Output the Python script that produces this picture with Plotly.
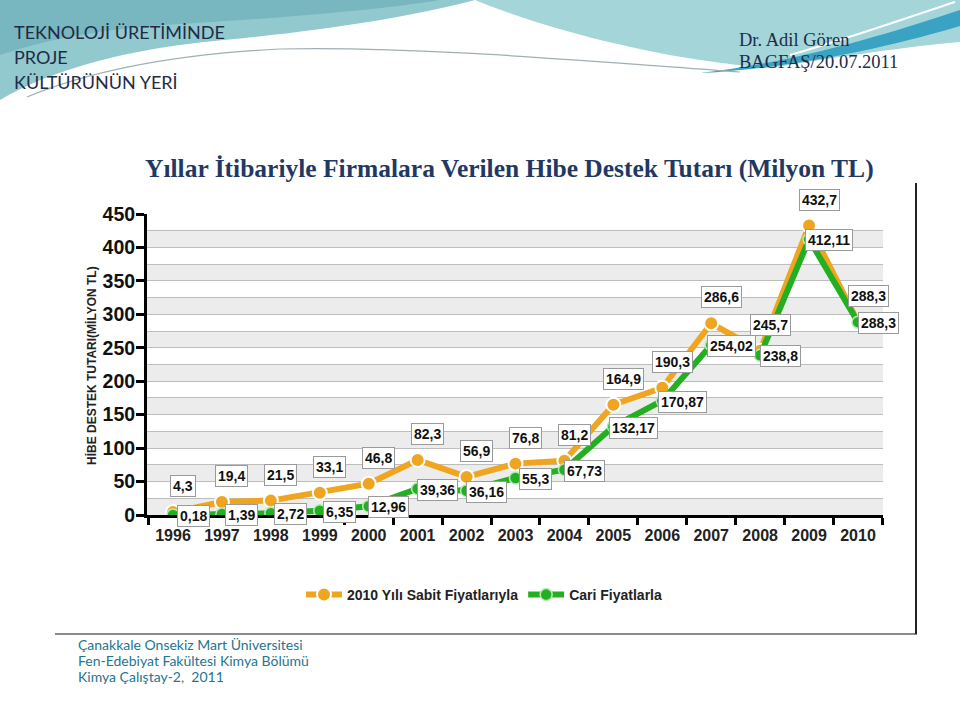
import plotly.graph_objects as go

years = [1996, 1997, 1998, 1999, 2000, 2001, 2002, 2003, 2004, 2005, 2006, 2007, 2008, 2009, 2010]
sabit = [4.3, 19.4, 21.5, 33.1, 46.8, 82.3, 56.9, 76.8, 81.2, 164.9, 190.3, 286.6, 245.7, 432.7, 288.3]
cari = [0.18, 1.39, 2.72, 6.35, 12.96, 39.36, 36.16, 55.3, 67.73, 132.17, 170.87, 254.02, 238.8, 412.11, 288.3]
series_names = ["2010 Yılı Sabit Fiyatlarıyla", "Cari Fiyatlarla"]
y_ticks = [0, 50, 100, 150, 200, 250, 300, 350, 400, 450]

ORANGE = "#EFA520"
GREEN = "#22B022"

W, H = 960, 716
L, R, T, B = 147, 883, 214, 515


def px(x):
    return (x - L) / (R - L)


def py(y):
    return (B - y) / (B - T)


def P(x, y):
    return f"{px(x):.5f},{py(y):.5f}"


def fmt(v):
    return str(v).replace(".", ",")


fig = go.Figure()

fig.add_trace(go.Scatter(
    x=years, y=sabit, name=series_names[0], mode="lines+markers",
    line=dict(color=ORANGE, width=6),
    marker=dict(size=14, color=ORANGE, line=dict(color="white", width=2)),
))
fig.add_trace(go.Scatter(
    x=years, y=cari, name=series_names[1], mode="lines+markers",
    line=dict(color=GREEN, width=6),
    marker=dict(size=12, color=GREEN, line=dict(color="#B8EAB8", width=1.5)),
))

shapes = []
# alternating bands
for k in range(0, 450, 50):
    shapes.append(dict(type="rect", xref="paper", yref="y", x0=0, x1=1, y0=k, y1=k + 25,
                       fillcolor="#ECECEC", line=dict(width=0), layer="below"))

# header decorations
shapes.append(dict(type="path", xref="paper", yref="paper",
                   path=f"M{P(0,0)} L{P(475,0)} C{P(420,15)} {P(330,30)} {P(224,40)} C{P(130,48)} {P(50,70)} {P(0,100)} Z",
                   fillcolor="#92C9CF", line=dict(width=0)))
shapes.append(dict(type="path", xref="paper", yref="paper",
                   path=f"M{P(0,0)} L{P(440,0)} C{P(380,10)} {P(280,18)} {P(180,24)} C{P(110,28)} {P(50,38)} {P(0,55)} Z",
                   fillcolor="#78B6C0", line=dict(width=0)))
shapes.append(dict(type="path", xref="paper", yref="paper",
                   path=f"M{P(475,0)} L{P(960,0)} L{P(960,42)} C{P(900,47)} {P(820,60)} {P(770,68)} C{P(680,62)} {P(560,35)} {P(475,0)} Z",
                   fillcolor="#A3D5D9", line=dict(width=0)))
shapes.append(dict(type="path", xref="paper", yref="paper",
                   path=f"M{P(700,73)} C{P(800,62)} {P(900,30)} {P(960,10)} L{P(960,26)} C{P(900,44)} {P(800,68)} {P(700,73)} Z",
                   fillcolor="#3AA2C3", line=dict(width=0)))
shapes.append(dict(type="path", xref="paper", yref="paper",
                   path=f"M{P(955,2)} C{P(900,20)} {P(850,38)} {P(790,55)}",
                   line=dict(color="white", width=2)))
shapes.append(dict(type="path", xref="paper", yref="paper",
                   path=f"M{P(27,97)} C{P(80,75)} {P(160,55)} {P(280,49)} C{P(420,46)} {P(600,62)} {P(740,72)}",
                   line=dict(color="#9FAFB3", width=1.2)))

# chart frame
shapes.append(dict(type="line", xref="paper", yref="paper", x0=px(55), x1=px(917), y0=py(634), y1=py(634),
                   line=dict(color="#8A8A8A", width=2)))
shapes.append(dict(type="line", xref="paper", yref="paper", x0=px(916), x1=px(916), y0=py(183), y1=py(634),
                   line=dict(color="#222222", width=2)))

annotations = []
lab_font = dict(family="Liberation Sans, Arial", size=14, color="#111111", weight="bold")
for xv, yv in zip(years, sabit):
    annotations.append(dict(x=xv, y=yv, xref="x", yref="y", text=fmt(yv), showarrow=False,
                            xshift=10, yshift=26, font=lab_font, bgcolor="white",
                            bordercolor="#9A9A9A", borderwidth=1, borderpad=2))
for xv, yv in zip(years, cari):
    annotations.append(dict(x=xv, y=yv, xref="x", yref="y", text=fmt(yv), showarrow=False,
                            xshift=20, yshift=-1, font=lab_font, bgcolor="white",
                            bordercolor="#9A9A9A", borderwidth=1, borderpad=2))

# y axis title
annotations.append(dict(x=px(91), y=py(366), xref="paper", yref="paper", showarrow=False,
                        xanchor="center", yanchor="middle",
                        text="HİBE DESTEK TUTARI(MİLYON TL)", textangle=-90,
                        font=dict(family="Liberation Sans, Arial", size=12, color="#222222", weight="bold")))

# slide texts
hdr_font = dict(family="Lato, Open Sans", size=18, color="#1E2B46")
for i, t in enumerate(["TEKNOLOJİ ÜRETİMİNDE", "PROJE", "KÜLTÜRÜNÜN YERİ"]):
    annotations.append(dict(x=px(12), y=py(32 + 25 * i), xref="paper", yref="paper", showarrow=False,
                            xanchor="left", yanchor="middle", text=t, font=hdr_font))
rt_font = dict(family="Liberation Serif, DejaVu Serif", size=18.5, color="#1E2B46")
annotations.append(dict(x=px(737), y=py(40), xref="paper", yref="paper", showarrow=False,
                        xanchor="left", yanchor="middle", text="Dr. Adil Gören", font=rt_font))
annotations.append(dict(x=px(737), y=py(62), xref="paper", yref="paper", showarrow=False,
                        xanchor="left", yanchor="middle", text="BAGFAŞ/20.07.2011", font=rt_font))
annotations.append(dict(x=px(509), y=py(168), xref="paper", yref="paper", showarrow=False,
                        xanchor="center", yanchor="middle",
                        text="Yıllar İtibariyle Firmalara Verilen Hibe Destek Tutarı (Milyon TL)",
                        font=dict(family="Liberation Serif, DejaVu Serif", size=25.5, color="#1F3864", weight="bold")))
ft_font = dict(family="Lato, Open Sans", size=14, color="#247590")
for i, t in enumerate(["Çanakkale Onsekiz Mart Üniversitesi", "Fen-Edebiyat Fakültesi Kimya Bölümü",
                       "Kimya Çalıştay-2,  2011"]):
    annotations.append(dict(x=px(77), y=py(644 + 16 * i), xref="paper", yref="paper", showarrow=False,
                            xanchor="left", yanchor="middle", text=t, font=ft_font,
                            height=16, borderpad=0, valign="middle"))

x0 = 1996 - (173 - L) / ((858 - 173) / 14)
x1 = 2010 + (R - 858) / ((858 - 173) / 14)

fig.update_layout(
    width=W, height=H,
    margin=dict(l=L, r=W - R, t=T, b=H - B),
    paper_bgcolor="white", plot_bgcolor="white",
    shapes=shapes, annotations=annotations,
    showlegend=True,
    legend=dict(orientation="h", x=px(484), xanchor="center", y=py(595), yanchor="middle",
                font=dict(family="Liberation Sans, Arial", size=14, color="#222222", weight="bold"),
                bgcolor="rgba(0,0,0,0)", itemwidth=36),
    xaxis=dict(range=[x0, x1], tickmode="array", tickvals=years, ticktext=[str(y) for y in years],
               showgrid=False, zeroline=False, showline=True, linecolor="black", linewidth=3,
               ticks="", tickfont=dict(family="Liberation Sans, Arial", size=16, color="#222222", weight="bold"),
               ticklabelstandoff=4,
               minor=dict(tick0=1995.5, dtick=1, ticks="outside", ticklen=7, tickwidth=3, tickcolor="black",
                          showgrid=False)),
    yaxis=dict(range=[0, 450], tickmode="array", tickvals=y_ticks, ticktext=[str(v) for v in y_ticks],
               showgrid=True, gridcolor="#BDBDBD", gridwidth=1, zeroline=False,
               showline=True, linecolor="black", linewidth=3,
               ticks="outside", ticklen=8, tickwidth=3, tickcolor="black",
               ticklabelstandoff=-3,
               tickfont=dict(family="Liberation Sans, Arial", size=19.5, color="#111111", weight="bold"),
               minor=dict(tick0=0, dtick=25, showgrid=True, gridcolor="#BDBDBD", gridwidth=1, ticks="")),
)

fig.write_html("out.html", config={"displayModeBar": False},
               post_script="document.body.style.margin='0px';document.body.style.overflow='hidden';")
